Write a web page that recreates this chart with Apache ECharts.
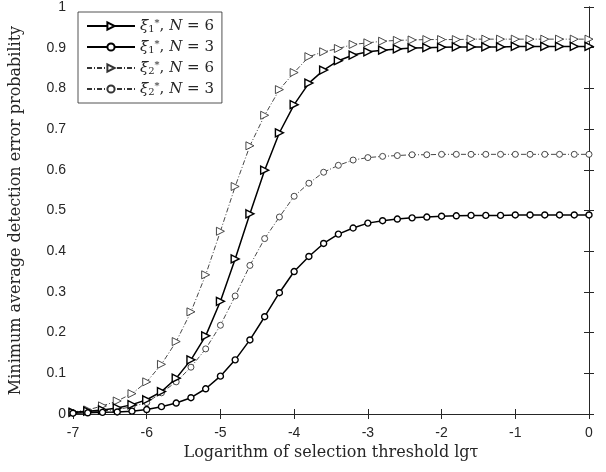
<!DOCTYPE html>
<html><head><meta charset="utf-8">
<script src="https://cdn.jsdelivr.net/npm/echarts@6/dist/echarts.min.js"></script>
<style>html,body{margin:0;padding:0;background:#fff}#c{width:606px;height:472px}</style>
</head><body><div id="c"></div>
<script>
const xs = [-7,-6.8,-6.6,-6.4,-6.2,-6,-5.8,-5.6,-5.4,-5.2,-5,-4.8,-4.6,-4.4,-4.2,-4,-3.8,-3.6,-3.4,-3.2,-3,-2.8,-2.6,-2.4,-2.2,-2,-1.8,-1.6,-1.4,-1.2,-1,-0.8,-0.6,-0.4,-0.2,0];
const xi1N6 = [0.004,0.007,0.010,0.015,0.023,0.035,0.055,0.088,0.133,0.192,0.277,0.381,0.492,0.599,0.691,0.760,0.813,0.845,0.868,0.882,0.890,0.894,0.897,0.899,0.900,0.901,0.902,0.902,0.902,0.902,0.903,0.903,0.903,0.903,0.903,0.903];
const xi1N3 = [0.002,0.003,0.004,0.005,0.007,0.011,0.018,0.027,0.040,0.062,0.093,0.133,0.182,0.239,0.298,0.350,0.387,0.419,0.442,0.457,0.469,0.475,0.479,0.482,0.484,0.486,0.487,0.488,0.488,0.488,0.489,0.489,0.489,0.489,0.489,0.489];
const xi2N6 = [0.005,0.010,0.020,0.032,0.050,0.079,0.122,0.178,0.251,0.342,0.449,0.559,0.659,0.734,0.797,0.839,0.878,0.890,0.898,0.908,0.912,0.916,0.918,0.919,0.920,0.920,0.920,0.921,0.921,0.921,0.921,0.921,0.921,0.921,0.921,0.921];
const xi2N3 = [0.003,0.005,0.007,0.011,0.018,0.028,0.052,0.079,0.115,0.160,0.218,0.290,0.365,0.431,0.484,0.535,0.567,0.594,0.611,0.624,0.630,0.633,0.635,0.637,0.637,0.638,0.638,0.638,0.638,0.638,0.638,0.638,0.638,0.638,0.638,0.638];
const seriesNames = ['a','b','c','d'];
const legendLabels = {a:['1','6'], b:['1','3'], c:['2','6'], d:['2','3']};

const pair = v => xs.map((x,i)=>[x,v[i]]);
const tri = 'path://M0,0 L10,5 L0,10 Z';
const serif = 'DejaVu Serif';
function mk(name, data, solid, symbol, size){
  return {
    name, type:'line', data: pair(data), symbol, symbolSize:size,
    itemStyle:{color:'#fff', borderColor: solid?'#000':'#333', borderWidth: solid?1.4:0.9},
    lineStyle:{color: solid?'#000':'#333', width: solid?1.5:0.9, type: solid?'solid':[5,2,1,2]},
    emphasis:{disabled:true}, animation:false, z: solid?3:2
  };
}
const chart = echarts.init(document.getElementById('c'));
chart.setOption({
  animation:false,
  grid:{left:68, right:17, top:5, bottom:58},
  xAxis:[{type:'value', min:-7, max:0, interval:1,
    axisLine:{lineStyle:{color:'#262626'}}, axisTick:{inside:true, length:5, lineStyle:{color:'#262626'}},
    axisLabel:{color:'#262626', fontSize:14, fontFamily:'Liberation Sans', margin:12},
    splitLine:{show:false},
    name:'Logarithm of selection threshold lgτ', nameLocation:'middle', nameGap:31,
    nameTextStyle:{fontFamily:serif, fontSize:16, color:'#262626'}},
   {type:'value', position:'top', min:-7, max:0, interval:1,
    axisLine:{lineStyle:{color:'#262626'}}, axisTick:{inside:true, length:5, lineStyle:{color:'#262626'}},
    axisLabel:{show:false}, splitLine:{show:false}}],
  yAxis:[{type:'value', min:0, max:1, interval:0.1,
    axisLine:{lineStyle:{color:'#262626'}}, axisTick:{inside:true, length:5, lineStyle:{color:'#262626'}},
    axisLabel:{color:'#262626', fontSize:14, fontFamily:'Liberation Sans', margin:7},
    splitLine:{show:false},
    name:'Minimum average detection error probability', nameLocation:'middle', nameGap:49,
    nameTextStyle:{fontFamily:serif, fontSize:16, color:'#262626'}},
   {type:'value', position:'right', min:0, max:1, interval:0.1,
    axisLine:{lineStyle:{color:'#262626'}}, axisTick:{inside:true, length:5, lineStyle:{color:'#262626'}},
    axisLabel:{show:false}, splitLine:{show:false}}],
  legend:{orient:'vertical', left:78, top:12, itemWidth:48, itemHeight:9, itemGap:5,
    backgroundColor:'#fff', borderColor:'#262626', borderWidth:0.8, borderRadius:0, padding:[6,8,6,8],
    data: seriesNames,
    formatter: n => `{x|ξ̄}{sub|${legendLabels[n][0]}}{sup|*}{t|, }{x|N}{t| = ${legendLabels[n][1]}}`,
    textStyle:{fontFamily:serif, fontSize:14, color:'#262626',
      rich:{
        x:{fontFamily:serif, fontStyle:'italic', fontSize:15, color:'#262626'},
        t:{fontFamily:serif, fontSize:15, color:'#262626'},
        sub:{fontFamily:serif, fontSize:10, color:'#262626', verticalAlign:'bottom', padding:[6,0,0,0]},
        sup:{fontFamily:serif, fontSize:10, color:'#262626', verticalAlign:'top', padding:[0,0,6,0]}
      }}},
  series:[
    mk('a', xi1N6, true, tri, 8),
    mk('b', xi1N3, true, 'circle', 6),
    mk('c', xi2N6, false, tri, 8),
    mk('d', xi2N3, false, 'circle', 6)
  ]
});
</script></body></html>
